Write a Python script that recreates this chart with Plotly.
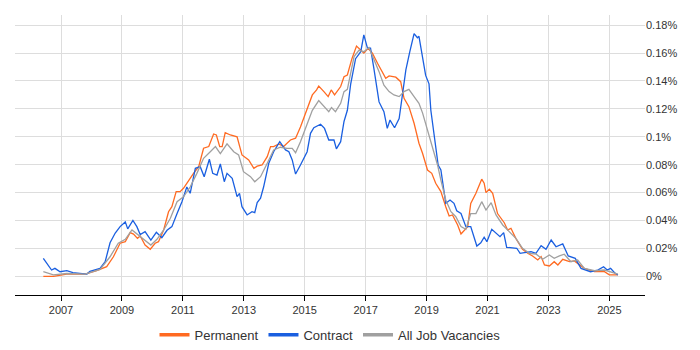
import plotly.graph_objects as go

# Decimal years and values (percent of job vacancies)
perm_x = [2006.42, 2006.75, 2007.19, 2007.79, 2008.17, 2008.50, 2008.72, 2008.94, 2009.11, 2009.27,
          2009.38, 2009.51, 2009.60, 2009.76, 2009.93, 2010.09, 2010.20, 2010.37, 2010.53, 2010.64,
          2010.78, 2010.91, 2011.02, 2011.19, 2011.35, 2011.52, 2011.68, 2011.85, 2012.01, 2012.10,
          2012.21, 2012.29, 2012.39, 2012.56, 2012.78, 2012.94, 2013.16, 2013.33, 2013.44, 2013.60,
          2013.77, 2013.88, 2013.98, 2014.15, 2014.31, 2014.53, 2014.70, 2014.86, 2015.06, 2015.25,
          2015.39, 2015.46, 2015.63, 2015.77, 2015.87, 2015.98, 2016.18, 2016.29, 2016.40, 2016.48,
          2016.55, 2016.70, 2016.84, 2016.94, 2017.08, 2017.22, 2017.39, 2017.49, 2017.66, 2017.77,
          2017.99, 2018.15, 2018.26, 2018.42, 2018.59, 2018.75, 2018.87, 2019.03, 2019.17, 2019.30,
          2019.47, 2019.63, 2019.74, 2019.85, 2020.02, 2020.13, 2020.24, 2020.35, 2020.45, 2020.62,
          2020.81, 2020.89, 2020.95, 2021.06, 2021.17, 2021.33, 2021.55, 2021.66, 2021.77, 2021.93,
          2022.15, 2022.32, 2022.48, 2022.65, 2022.76, 2022.87, 2023.03, 2023.19, 2023.31, 2023.47,
          2023.69, 2023.85, 2024.18, 2024.51, 2024.84, 2025.00, 2025.28]
perm_y = [0.0, 0.0, 0.0016, 0.0016, 0.004, 0.0069, 0.014, 0.0237, 0.0248, 0.0313,
          0.0303, 0.0272, 0.0289, 0.0224, 0.0194, 0.0237, 0.0248, 0.0332, 0.0463, 0.0499,
          0.0607, 0.0607, 0.0631, 0.069, 0.0738, 0.0786, 0.0918, 0.093, 0.102, 0.1013,
          0.093, 0.093, 0.103, 0.1013, 0.1, 0.087, 0.0834, 0.0774, 0.079, 0.0798,
          0.0858, 0.093, 0.093, 0.0949, 0.093, 0.0977, 0.099, 0.107, 0.119, 0.13,
          0.1336, 0.1364, 0.1324, 0.1288, 0.1336, 0.13, 0.136, 0.143, 0.1443, 0.1515,
          0.156, 0.165, 0.1622, 0.16, 0.1635, 0.16, 0.1527, 0.149, 0.142, 0.1436,
          0.1427, 0.1395, 0.1276, 0.1216, 0.1097, 0.0954, 0.088, 0.0762, 0.0738, 0.0667,
          0.0607, 0.0499, 0.0432, 0.044, 0.0368, 0.0303, 0.0332, 0.0356, 0.0523, 0.0595,
          0.0696, 0.0667, 0.06, 0.0624, 0.0595, 0.045, 0.0384, 0.0332, 0.0344, 0.0272,
          0.0194, 0.0165, 0.0146, 0.0117, 0.0141, 0.0081, 0.0074, 0.0105, 0.0081, 0.0122,
          0.0105, 0.011, 0.0057, 0.0033, 0.0033, 0.001, 0.001]

contract_x = [2006.42, 2006.69, 2006.80, 2006.97, 2007.19, 2007.39, 2007.85, 2007.95, 2008.28, 2008.45,
              2008.61, 2008.78, 2008.94, 2009.11, 2009.19, 2009.36, 2009.49, 2009.60, 2009.76, 2009.95,
              2010.13, 2010.31, 2010.48, 2010.64, 2010.81, 2010.97, 2011.13, 2011.24, 2011.41, 2011.57,
              2011.70, 2011.87, 2011.98, 2012.12, 2012.23, 2012.36, 2012.45, 2012.62, 2012.78, 2012.86,
              2012.94, 2013.11, 2013.27, 2013.36, 2013.44, 2013.55, 2013.65, 2013.82, 2013.98, 2014.18,
              2014.37, 2014.48, 2014.59, 2014.70, 2014.86, 2015.08, 2015.19, 2015.30, 2015.52, 2015.65,
              2015.79, 2015.96, 2016.04, 2016.18, 2016.29, 2016.40, 2016.51, 2016.67, 2016.84, 2016.94,
              2017.06, 2017.16, 2017.27, 2017.44, 2017.60, 2017.71, 2017.80, 2017.95, 2018.10, 2018.21,
              2018.32, 2018.45, 2018.59, 2018.70, 2018.75, 2018.97, 2019.08, 2019.14, 2019.30, 2019.38,
              2019.47, 2019.58, 2019.63, 2019.77, 2019.90, 2019.99, 2020.13, 2020.29, 2020.45, 2020.65,
              2020.78, 2020.89, 2020.98, 2021.14, 2021.30, 2021.41, 2021.53, 2021.63, 2021.96, 2022.07,
              2022.21, 2022.43, 2022.59, 2022.76, 2022.92, 2023.09, 2023.25, 2023.47, 2023.65, 2023.88,
              2024.07, 2024.38, 2024.62, 2024.81, 2024.93, 2025.04, 2025.17, 2025.28]
contract_y = [0.0129, 0.0045, 0.0057, 0.0033, 0.004, 0.0026, 0.0016, 0.0035, 0.0057, 0.0105,
              0.024, 0.031, 0.0356, 0.039, 0.034, 0.040, 0.0356, 0.030, 0.032, 0.026,
              0.0315, 0.0277, 0.033, 0.0356, 0.045, 0.0535, 0.064, 0.0595, 0.0774, 0.0786,
              0.0714, 0.0839, 0.0738, 0.0726, 0.0805, 0.0678, 0.0738, 0.0703, 0.0571, 0.0595,
              0.0499, 0.044, 0.0463, 0.0456, 0.0528, 0.056, 0.064, 0.081, 0.0893, 0.0965,
              0.0906, 0.0893, 0.0834, 0.0733, 0.0798, 0.0893, 0.1025, 0.1065, 0.109, 0.106,
              0.0977, 0.0977, 0.0913, 0.0965, 0.111, 0.119, 0.138, 0.156, 0.161, 0.173,
              0.1635, 0.1635, 0.149, 0.125, 0.118, 0.106, 0.112, 0.1065, 0.113, 0.132,
              0.148, 0.161, 0.174, 0.171, 0.172, 0.144, 0.138, 0.119, 0.0906, 0.0798,
              0.0762, 0.0595, 0.0523, 0.0547, 0.0523, 0.047, 0.045, 0.0356, 0.0356, 0.0217,
              0.024, 0.028, 0.0248, 0.0337, 0.0308, 0.0284, 0.0313, 0.0208, 0.0201, 0.0165,
              0.017, 0.0176, 0.0165, 0.022, 0.0194, 0.026, 0.0212, 0.0232, 0.0146, 0.0129,
              0.0057, 0.0033, 0.0045, 0.0069, 0.0045, 0.0057, 0.0026, 0.001]

all_x = [2006.42, 2006.75, 2007.19, 2007.79, 2008.28, 2008.61, 2008.88, 2009.11, 2009.33, 2009.54,
         2009.76, 2009.95, 2010.15, 2010.37, 2010.59, 2010.81, 2011.02, 2011.24, 2011.46, 2011.68,
         2011.90, 2012.07, 2012.23, 2012.45, 2012.67, 2012.83, 2012.99, 2013.22, 2013.36, 2013.55,
         2013.77, 2013.98, 2014.20, 2014.42, 2014.59, 2014.70, 2014.86, 2015.08, 2015.25, 2015.46,
         2015.63, 2015.79, 2015.88, 2016.01, 2016.18, 2016.29, 2016.40, 2016.51, 2016.62, 2016.78,
         2016.94, 2017.11, 2017.27, 2017.44, 2017.60, 2017.77, 2017.93, 2018.10, 2018.26, 2018.42,
         2018.59, 2018.75, 2018.87, 2019.03, 2019.19, 2019.36, 2019.47, 2019.63, 2019.80, 2019.96,
         2020.13, 2020.29, 2020.45, 2020.62, 2020.81, 2020.95, 2021.12, 2021.28, 2021.50, 2021.71,
         2021.93, 2022.15, 2022.37, 2022.59, 2022.81, 2023.03, 2023.19, 2023.36, 2023.52, 2023.74,
         2023.96, 2024.18, 2024.51, 2024.84, 2025.06, 2025.28]
all_y = [0.0033, 0.001, 0.002, 0.0016, 0.005, 0.014, 0.0237, 0.0265, 0.0332, 0.0296,
         0.026, 0.0224, 0.0265, 0.0332, 0.0416, 0.0535, 0.057, 0.064, 0.0738, 0.0846,
         0.0893, 0.093, 0.088, 0.0949, 0.0893, 0.087, 0.075, 0.0714, 0.0678, 0.0714,
         0.081, 0.0906, 0.0925, 0.0917, 0.0917, 0.0886, 0.0965, 0.1097, 0.119, 0.126,
         0.122, 0.118, 0.121, 0.118, 0.124, 0.1324, 0.134, 0.1456, 0.1575, 0.162,
         0.161, 0.164, 0.156, 0.1467, 0.137, 0.1324, 0.13, 0.1288, 0.1324, 0.134,
         0.1288, 0.124, 0.117, 0.105, 0.093, 0.0798, 0.069, 0.0547, 0.0463, 0.0427,
         0.0356, 0.0337, 0.045, 0.045, 0.0535, 0.0475, 0.0528, 0.044, 0.0368, 0.032,
         0.0272, 0.0201, 0.0165, 0.016, 0.0122, 0.0153, 0.0129, 0.0146, 0.0158, 0.0105,
         0.0117, 0.0057, 0.004, 0.0045, 0.0033, 0.0016]

series_names = ["Permanent", "Contract", "All Job Vacancies"]
series_colors = ["#FF6A21", "#1A5FE0", "#A0A0A0"]

x_tickvals = [2007, 2009, 2011, 2013, 2015, 2017, 2019, 2021, 2023, 2025]
x_ticktext = ["2007", "2009", "2011", "2013", "2015", "2017", "2019", "2021", "2023", "2025"]
y_tickvals = [0, 0.02, 0.04, 0.06, 0.08, 0.1, 0.12, 0.14, 0.16, 0.18]
y_ticktext = ["0%", "0.02%", "0.04%", "0.06%", "0.08%", "0.1%", "0.12%", "0.14%", "0.16%", "0.18%"]

fig = go.Figure()
for name, color, xs, ys in zip(series_names, series_colors,
                               [perm_x, contract_x, all_x], [perm_y, contract_y, all_y]):
    fig.add_trace(go.Scatter(x=xs, y=ys, mode="lines", name=name, showlegend=False,
                             legendgroup=name, line=dict(color=color, width=1.3)))
# legend entries with thicker line samples
for name, color in zip(series_names, series_colors):
    fig.add_trace(go.Scatter(x=[None], y=[None], mode="lines", name=name, legendgroup=name,
                             line=dict(color=color, width=3.5)))

# page body has an 8px default margin, so offset margins to compensate
fig.update_layout(
    width=700, height=350,
    margin=dict(l=7, r=63, t=7, b=63, autoexpand=False),
    paper_bgcolor="white", plot_bgcolor="white",
    font=dict(family="Liberation Sans, Arial, sans-serif", size=12, color="#333333"),
    showlegend=True,
    legend=dict(orientation="h", xref="paper", x=0.5, xanchor="center",
                yref="container", y=0.066, yanchor="middle",
                font=dict(size=13, color="#333333"), itemwidth=30, tracegroupgap=0),
)
fig.update_xaxes(range=[2005.49, 2026.17], tickvals=x_tickvals, ticktext=x_ticktext,
                 showgrid=True, gridcolor="#DDDDDD", gridwidth=1, automargin=False,
                 showline=True, linecolor="#000000", linewidth=1,
                 ticks="outside", ticklen=5, tickcolor="#000000",
                 tickfont=dict(size=11, color="#333333"), zeroline=False)
fig.update_yaxes(range=[-0.0134, 0.1873], side="right", tickvals=y_tickvals, ticktext=y_ticktext,
                 showgrid=True, gridcolor="#DDDDDD", gridwidth=1, zeroline=False, automargin=False,
                 showline=False, ticks="", tickfont=dict(size=11, color="#333333"))

fig.write_html("out.html")
